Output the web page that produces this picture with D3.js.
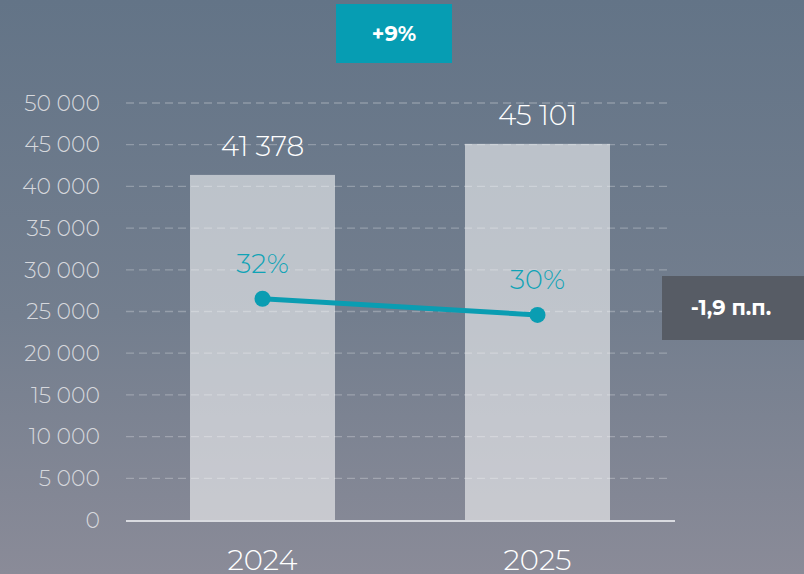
<!DOCTYPE html>
<html><head><meta charset="utf-8">
<script src="https://cdn.jsdelivr.net/npm/d3@7"></script>
<style>
html,body{margin:0;padding:0;}
svg{display:block;font-family:"Montserrat","Lato","Open Sans",sans-serif;}
</style></head>
<body><svg id="c" width="804" height="574"></svg>
<script>
const categories = ["2024", "2025"];
const barValues = [41378, 45101];
const barLabels = ["41 378", "45 101"];
const pctValues = [32.0, 30.1];
const pctLabels = ["32%", "30%"];
const yTicks = [0, 5000, 10000, 15000, 20000, 25000, 30000, 35000, 40000, 45000, 50000];
const growthLabel = "+9%";
const deltaLabel = "\u20111,9 п.п.";

const W = 804, H = 574;
const svg = d3.select("#c");
const defs = svg.append("defs");
const g = defs.append("linearGradient").attr("id","bg").attr("x1",0).attr("y1",0).attr("x2",0).attr("y2",1);
g.append("stop").attr("offset","0%").attr("stop-color","#637487");
g.append("stop").attr("offset","55%").attr("stop-color","#737e8e");
g.append("stop").attr("offset","100%").attr("stop-color","#8a8b98");
svg.append("rect").attr("width",W).attr("height",H).attr("fill","url(#bg)");

const xBand = d3.scaleBand().domain(categories).range([190, 610]).paddingInner(130/420*2/(1+130/420)).paddingOuter(0);
const y = d3.scaleLinear().domain([0, 50000]).range([520, 103]);
const yp = d3.scaleLinear().domain([6, 55]).range([520, 103]);

const fmt = v => d3.format(",")(v).replace(/,/g, " ");

// gridlines
svg.append("g").selectAll("line").data(yTicks.filter(d=>d>0)).join("line")
  .attr("x1",126).attr("x2",672).attr("y1",d=>y(d)).attr("y2",d=>y(d))
  .attr("stroke","rgba(255,255,255,0.16)").attr("stroke-width",1.3).attr("stroke-dasharray","8,5");

// tick labels
svg.append("g").selectAll("text").data(yTicks).join("text")
  .attr("x",100).attr("y",d=>y(d)).attr("dy","0.35em").attr("text-anchor","end")
  .attr("fill","#d6d8dd").attr("font-size",22).attr("font-weight",300)
  .text(d=>fmt(d));

// bars
svg.append("g").selectAll("rect").data(barValues).join("rect")
  .attr("x",(d,i)=>xBand(categories[i])).attr("width",xBand.bandwidth())
  .attr("y",d=>y(d)).attr("height",d=>y(0)-y(d))
  .attr("fill","rgba(255,255,255,0.55)");

// gridlines faint over bars
svg.append("g").selectAll("line").data(yTicks.filter(d=>d>0)).join("line")
  .attr("x1",126).attr("x2",672).attr("y1",d=>y(d)).attr("y2",d=>y(d))
  .attr("stroke","rgba(255,255,255,0.12)").attr("stroke-width",1.3).attr("stroke-dasharray","8,5");

// axis line
svg.append("line").attr("x1",126).attr("x2",675).attr("y1",y(0)+1).attr("y2",y(0)+1)
  .attr("stroke","#d9dbe0").attr("stroke-width",2);

const cx = c => xBand(c) + xBand.bandwidth()/2;

// bar value labels
svg.append("g").selectAll("text").data(barValues).join("text")
  .attr("x",(d,i)=>cx(categories[i])).attr("y",d=>y(d)-19).attr("text-anchor","middle")
  .attr("fill","#ffffff").attr("font-size",28).attr("font-weight",300)
  .text((d,i)=>barLabels[i]);

// x labels
svg.append("g").selectAll("text").data(categories).join("text")
  .attr("x",d=>cx(d)).attr("y",570).attr("text-anchor","middle")
  .attr("fill","#ffffff").attr("font-size",29).attr("font-weight",300)
  .text(d=>d);

// line
const teal = "#0a9db2";
const line = d3.line().x((d,i)=>cx(categories[i])).y(d=>yp(d));
svg.append("path").datum(pctValues).attr("d",line).attr("fill","none")
  .attr("stroke",teal).attr("stroke-width",5);
svg.append("g").selectAll("circle").data(pctValues).join("circle")
  .attr("cx",(d,i)=>cx(categories[i])).attr("cy",d=>yp(d)).attr("r",8).attr("fill",teal);
svg.append("g").selectAll("text").data(pctValues).join("text")
  .attr("x",(d,i)=>cx(categories[i])).attr("y",d=>yp(d)-26).attr("text-anchor","middle")
  .attr("fill","#0fa3b6").attr("font-size",27).attr("font-weight",300)
  .text((d,i)=>pctLabels[i]);

// growth badge
svg.append("rect").attr("x",336).attr("y",4).attr("width",116).attr("height",59).attr("fill","#069db3");
svg.append("text").attr("x",394).attr("y",34).attr("dy","0.35em").attr("text-anchor","middle")
  .attr("fill","#fff").attr("font-size",21).attr("font-weight",700).text(growthLabel);

// delta badge
svg.append("rect").attr("x",662).attr("y",276).attr("width",142).attr("height",64).attr("fill","#575c65");
svg.append("text").attr("x",731).attr("y",308).attr("dy","0.35em").attr("text-anchor","middle")
  .attr("fill","#fff").attr("font-size",21).attr("font-weight",700).text(deltaLabel);
</script></body></html>
